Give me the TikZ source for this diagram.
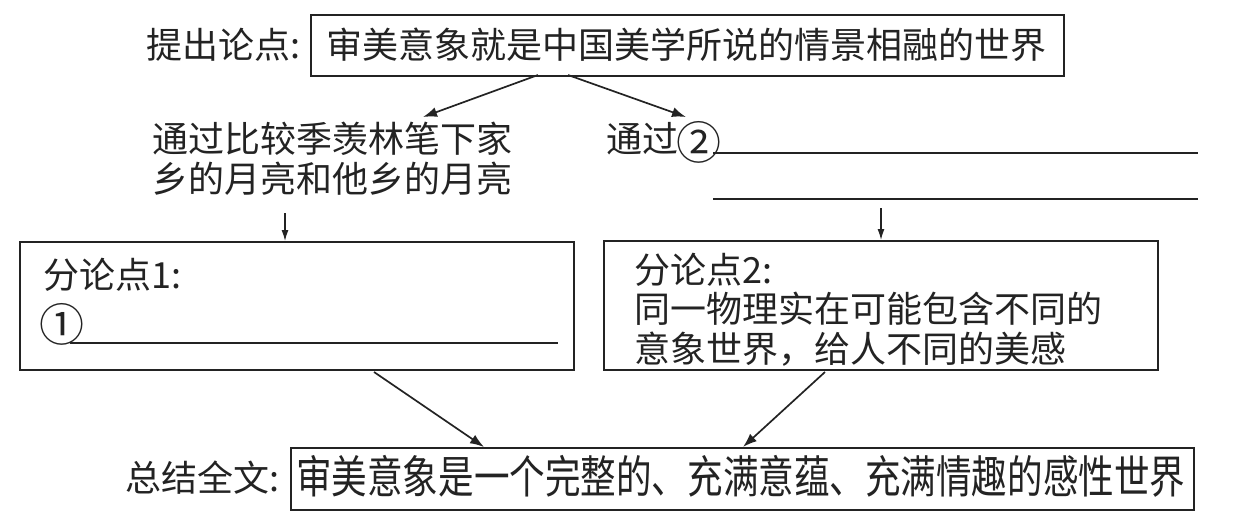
\documentclass[tikz,border=0pt]{standalone}
\usepackage{fontspec}
\usepackage{graphicx}
\newfontfamily\cjk{Noto Sans CJK SC}
\usetikzlibrary{arrows.meta}
\definecolor{ink}{RGB}{35,35,35}
\tikzset{
  box/.style={draw=ink, line width=1.8pt, inner sep=0pt, anchor=north west},
  txt/.style={anchor=base west, inner sep=0pt, text=ink, font=\cjk\fontsize{36}{40}\selectfont},
  bigarrow/.style={draw=ink, line width=1.7pt, -{Latex[length=14pt,width=10pt]}},
  smallarrow/.style={draw=ink, line width=1.3pt, -{Latex[length=11pt,width=7pt]}},
  blank/.style={draw=ink, line width=1.6pt}
}
\begin{document}
\begin{tikzpicture}[x=1pt,y=-1pt]
\useasboundingbox (0,0) rectangle (1236,517);
% boxes
\node[box, minimum width=753pt, minimum height=61pt] (top) at (310,14) {};
\node[box, minimum width=554pt, minimum height=128pt] (lbox) at (19,241) {};
\node[box, minimum width=554pt, minimum height=129pt] (rbox) at (603,240) {};
\node[box, minimum width=903pt, minimum height=62pt] (bbox) at (290,447) {};
% texts
\node[txt] (lab1) at (146,58) {提出论点:};
\node[txt] (toptext) at (326,58) {审美意象就是中国美学所说的情景相融的世界};
\node[txt] (lt1) at (152,152) {通过比较季羡林笔下家};
\node[txt] (lt2) at (152,192) {乡的月亮和他乡的月亮};
\node[txt] (rt1) at (606,152) {通过};
\node[txt] (rt2) at (676,159.5) {\scalebox{1.25}{②}};
\node[txt] (l1a) at (43,288) {分论点1:};
\node[txt] (l1b) at (39.5,341.5) {\scalebox{1.25}{①}};
\node[txt] (r1a) at (634,283) {分论点2:};
\node[txt] (r1b) at (634,322) {同一物理实在可能包含不同的};
\node[txt] (r1c) at (634,362) {意象世界，给人不同的美感};
\node[txt] (lab2) at (125,491) {总结全文:};
\node[txt] (bottext) at (296,493) {\scalebox{0.988}[1.25]{审美意象是一个完整的、充满意蕴、充满情趣的感性世界}};
% blanks
\draw[blank] (713,153) -- (1198,153);
\draw[blank] (713,199) -- (1198,199);
\draw[blank] (70,343) -- (558,343);
% coordinates for connectors
\coordinate (a1s) at (538,75);
\coordinate (a1e) at (423,117);
\coordinate (a2s) at (568,75);
\coordinate (a2e) at (686,117);
\coordinate (a3s) at (285,213);
\coordinate (a3e) at (285,241);
\coordinate (a4s) at (881,208);
\coordinate (a4e) at (881,240);
\coordinate (a5s) at (374,372);
\coordinate (a5e) at (484,447);
\coordinate (a6s) at (825,372);
\coordinate (a6e) at (743,447);
\draw[bigarrow] (a1s) -- (a1e);
\draw[bigarrow] (a2s) -- (a2e);
\draw[smallarrow] (a3s) -- (a3e);
\draw[smallarrow] (a4s) -- (a4e);
\draw[bigarrow] (a5s) -- (a5e);
\draw[bigarrow] (a6s) -- (a6e);
\end{tikzpicture}
\end{document}
